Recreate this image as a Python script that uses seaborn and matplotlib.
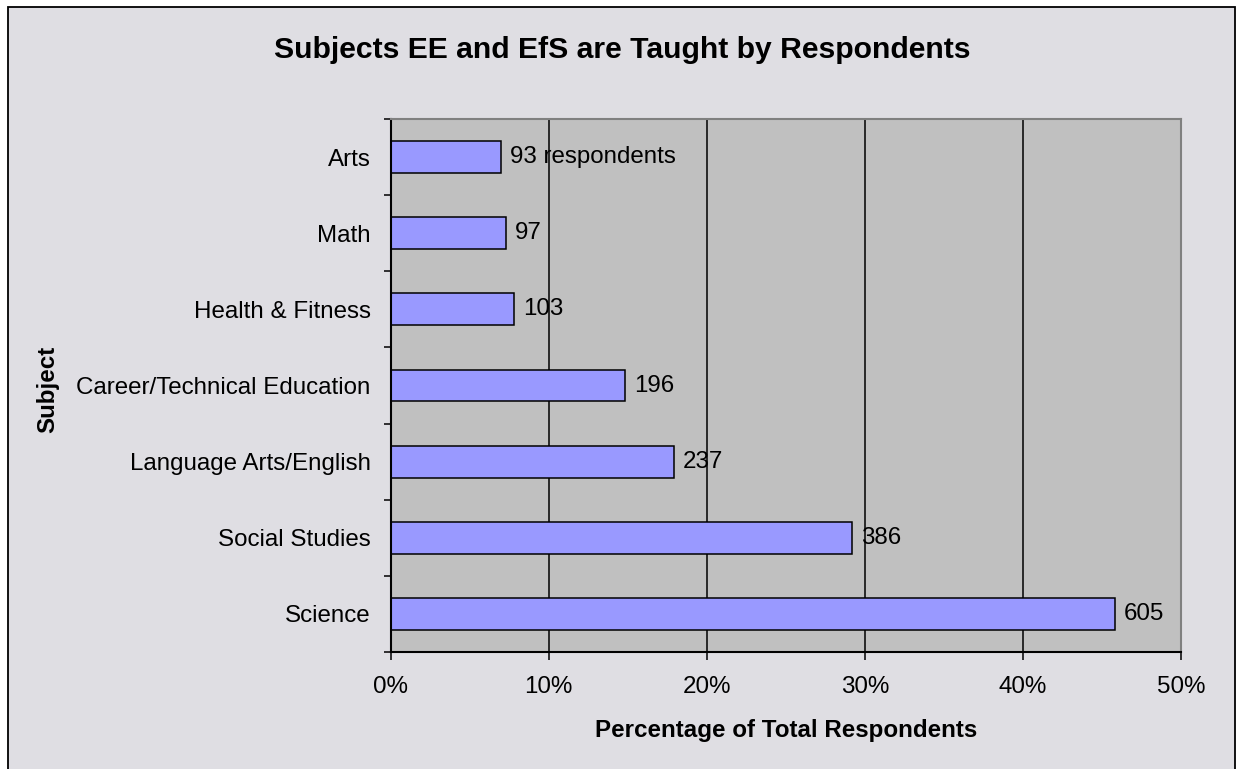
import matplotlib
matplotlib.use("Agg")
import matplotlib.pyplot as plt
import matplotlib.patches as mpatches
from matplotlib.ticker import FixedLocator, FuncFormatter
import seaborn as sns
import pandas as pd

subjects = ["Arts", "Math", "Health & Fitness", "Career/Technical Education",
            "Language Arts/English", "Social Studies", "Science"]
percent = [7.0, 7.3, 7.8, 14.8, 17.9, 29.2, 45.8]
respondents = [93, 97, 103, 196, 237, 386, 605]
bar_labels = ["93 respondents", "97", "103", "196", "237", "386", "605"]
x_ticks = [0, 10, 20, 30, 40, 50]

sns.set_theme(style="white")
plt.rcParams["font.family"] = ["Liberation Sans", "DejaVu Sans"]

W, H = 1236, 769
fig = plt.figure(figsize=(W / 100, H / 100), dpi=100, facecolor="white")

# outer chart-area frame
frame = mpatches.Rectangle((8 / W, -0.05), (1235 - 8) / W, 1 - 7 / H + 0.05,
                           transform=fig.transFigure, facecolor="#DFDEE3",
                           edgecolor="black", linewidth=1.3, zorder=-10)
fig.patches.append(frame)

ax_l, ax_r, ax_t, ax_b = 390.7, 1181.0, 119.0, 652.0
ax = fig.add_axes([ax_l / W, 1 - ax_b / H, (ax_r - ax_l) / W, (ax_b - ax_t) / H])
ax.set_facecolor("#C0C0C0")

df = pd.DataFrame({"subject": subjects, "percent": percent})
sns.barplot(data=df, x="percent", y="subject", order=subjects, color="#9999FF",
            saturation=1, edgecolor="black", linewidth=1.1, width=0.42, ax=ax)

ax.set_xlim(0, 50)
ax.set_ylim(len(subjects) - 0.5, -0.5)
ax.xaxis.set_major_locator(FixedLocator(x_ticks))
ax.xaxis.set_major_formatter(FuncFormatter(lambda v, p: f"{v:.0f}%"))
ax.grid(axis="x", color="black", linewidth=1.1)
ax.grid(axis="y", visible=False)
ax.set_axisbelow(True)

# y ticks at category boundaries
ax.yaxis.set_minor_locator(FixedLocator([i - 0.5 for i in range(len(subjects) + 1)]))
ax.tick_params(axis="y", which="major", length=0, pad=14.4, labelsize=17.4, colors="black")
ax.tick_params(axis="y", which="minor", left=True, length=5, width=1.1, color="black")
ax.tick_params(axis="x", which="major", bottom=True, length=5.5, width=1.1,
               color="black", pad=12, labelsize=17.4, labelcolor="black")

for side in ["left", "bottom"]:
    ax.spines[side].set_color("black")
    ax.spines[side].set_linewidth(1.5)
for side in ["top", "right"]:
    ax.spines[side].set_color("#808080")
    ax.spines[side].set_linewidth(1.5)

ax.bar_label(ax.containers[0], labels=bar_labels, padding=6.5, fontsize=17.4, color="black")

ax.set_xlabel("Percentage of Total Respondents", fontsize=17.4, fontweight="bold", color="black")
ax.set_ylabel("Subject", fontsize=17.4, fontweight="bold", color="black")
ax.xaxis.label.set_va("center")
ax.yaxis.label.set_va("center")
ax.xaxis.set_label_coords((786 - ax_l) / (ax_r - ax_l), (ax_b - 731) / (ax_b - ax_t))
ax.yaxis.set_label_coords((48 - ax_l) / (ax_r - ax_l), (ax_b - 389) / (ax_b - ax_t))

fig.text(622 / W, 1 - 50 / H, "Subjects EE and EfS are Taught by Respondents",
         ha="center", va="center", fontsize=21.7, fontweight="bold", color="black")

fig.savefig("out.png", dpi=100, facecolor="white")
